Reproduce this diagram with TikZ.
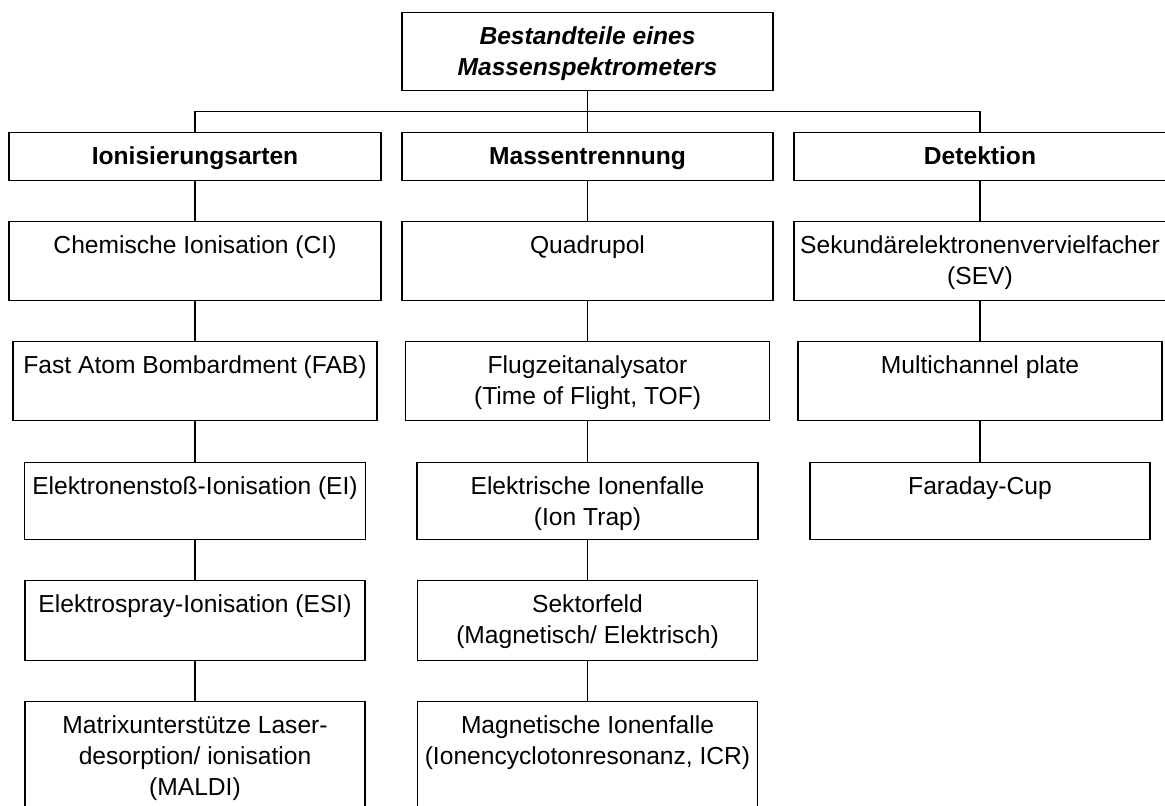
\documentclass[tikz,border=0pt]{standalone}
\usepackage{fontspec}
\setmainfont{Liberation Sans}
\usetikzlibrary{calc}

% Kasten: Breite, Hoehe, Text (oben ausgerichtet)
\newcommand{\kasten}[3]{\parbox[t][#2][t]{#1}{\centering\rule{0pt}{16pt}#3}}

\begin{document}
\begin{tikzpicture}[x=0.5pt,y=-0.5pt,
		every node/.style={font=\fontsize{12.3}{15.5}\selectfont},
		box/.style={draw,line width=0.7pt,inner sep=0pt,anchor=north},
		edge/.style={line width=0.7pt}]
	\path[use as bounding box,fill=white] (0,0) rectangle (1165,805);
	% Kopf
	\node[box] (kopf) at (587.5,12) {\kasten{185.5pt}{39pt}{\bfseries\itshape Bestandteile eines\\Massenspektrometers}};
	% erste Ebene
	\node[box] (ion) at (195,132) {\kasten{186pt}{24pt}{\bfseries Ionisierungsarten}};
	\node[box] (mt) at (587.5,132) {\kasten{185.5pt}{24pt}{\bfseries Massentrennung}};
	\node[box] (det) at (980,132) {\kasten{186pt}{24pt}{\bfseries Detektion}};
	% Ionisierungsarten
	\node[box] (ci) at (195,221) {\kasten{186pt}{39.5pt}{Chemische Ionisation (CI)}};
	\node[box] (fab) at (195,341) {\kasten{182pt}{39.5pt}{Fast Atom Bombardment (FAB)}};
	\node[box] (ei) at (195,462) {\kasten{170.5pt}{38.5pt}{Elektronenstoß-Ionisation (EI)}};
	\node[box] (esi) at (195,580) {\kasten{170pt}{40pt}{Elektrospray-Ionisation (ESI)}};
	\node[box] (maldi) at (195,701) {\kasten{170pt}{56pt}{Matrixunterstütze Laser-\\desorption/ ionisation\\(MALDI)}};
	% Massentrennung
	\node[box] (quad) at (587.5,221) {\kasten{185.5pt}{39.5pt}{Quadrupol}};
	\node[box] (tof) at (587.5,341) {\kasten{182pt}{39.5pt}{Flugzeitanalysator\\(Time of Flight, TOF)}};
	\node[box] (trap) at (587.5,462) {\kasten{170.5pt}{38.5pt}{Elektrische Ionenfalle\\(Ion Trap)}};
	\node[box] (sek) at (587.5,580) {\kasten{170pt}{40pt}{Sektorfeld\\(Magnetisch/ Elektrisch)}};
	\node[box] (icr) at (587.5,701) {\kasten{170pt}{56pt}{Magnetische Ionenfalle\\(Ionencyclotonresonanz, ICR)}};
	% Detektion
	\node[box] (sev) at (980,221) {\kasten{186pt}{39.5pt}{Sekundärelektronenvervielfacher\\(SEV)}};
	\node[box] (mcp) at (980,341) {\kasten{182pt}{39.5pt}{Multichannel plate}};
	\node[box] (cup) at (980,462) {\kasten{170pt}{38.5pt}{Faraday-Cup}};
	% Verbindungen
	\draw[edge] (kopf.south) -- (mt.north);
	\draw[edge] (ion.north) |- ($(kopf.south)!.5!(mt.north)$) -| (det.north);
	\foreach \a/\b in {ion/ci,ci/fab,fab/ei,ei/esi,esi/maldi,
			mt/quad,quad/tof,tof/trap,trap/sek,sek/icr,
			det/sev,sev/mcp,mcp/cup}
		\draw[edge] (\a.south) -- (\b.north);
\end{tikzpicture}
\end{document}
